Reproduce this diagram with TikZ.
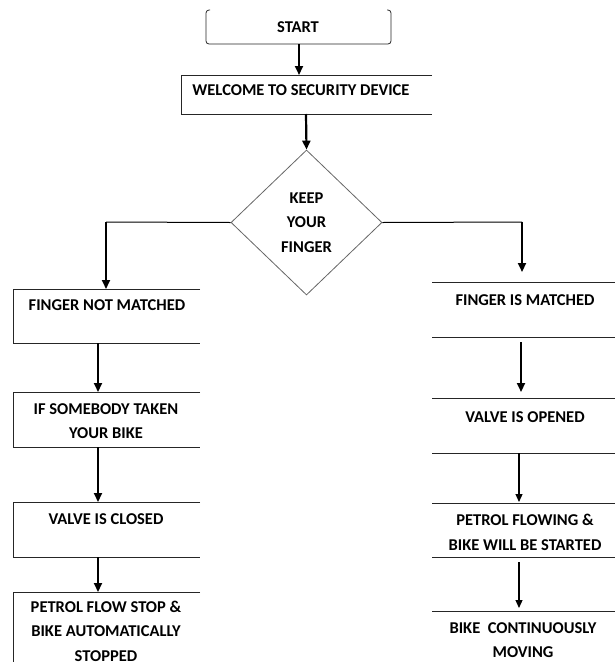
\documentclass[tikz,border=0pt]{standalone}
\usepackage{fontspec}
\setmainfont{Carlito}
\usetikzlibrary{arrows.meta,shapes.geometric}
\begin{document}
\begin{tikzpicture}[x=1pt,y=-1pt,
  lbl/.style={font=\bfseries\fontsize{16.5}{24.5}\selectfont, align=center, inner sep=0pt},
  edge/.style={black!85, line width=0.8pt},
  conn/.style={black, line width=1pt},
  thickarrow/.style={black, line width=2.2pt, -{Triangle[length=9pt,width=8pt]}},
  thinarrow/.style={black, line width=1.2pt, -{Triangle[length=8pt,width=7pt]}}]
\useasboundingbox (0,0) rectangle (615,662);
\clip (0,0) rectangle (615,662);
% START
\draw[edge, rounded corners=3pt] (210,10) -- (206,10) -- (206,44) -- (391,44) -- (391,10) -- (387,10);
\node[lbl] (start) at (298,27) {START};
\coordinate (startB) at (299,44);
% WELCOME
\draw[edge] (432,75) -- (181,75) -- (181,114) -- (432,114);
\node[lbl] (welcome) at (301,90) {WELCOME TO SECURITY DEVICE};
\coordinate (welT) at (299,75);
\coordinate (welB) at (306,114);
% DIAMOND
\node[lbl, draw=black!60, line width=0.8pt, diamond, minimum width=151pt, minimum height=145pt] (keep) at (306.5,222.5) {KEEP\\YOUR\\FINGER};
% left column
\draw[edge] (200,289) -- (13,289) -- (13,343) -- (200,343);
\draw[edge] (200,392) -- (13,392) -- (13,447) -- (200,447);
\draw[edge] (200,502) -- (13,502) -- (13,557) -- (200,557);
\draw[edge] (200,592) -- (13,592) -- (13,670);
\node[lbl] (l1) at (107,305) {FINGER NOT MATCHED};
\node[lbl] (l2) at (106,421) {IF SOMEBODY TAKEN\\YOUR BIKE};
\node[lbl] (l3) at (106,519) {VALVE IS CLOSED};
\node[lbl] (l4) at (106,631) {PETROL FLOW STOP \&\\BIKE AUTOMATICALLY\\STOPPED};
\coordinate (l1T) at (106,289);
\coordinate (l1B) at (98,343);
\coordinate (l2T) at (98,392);
\coordinate (l2B) at (98,447);
\coordinate (l3T) at (98,502);
\coordinate (l3B) at (98,557);
\coordinate (l4T) at (98,592);
% right column
\draw[edge] (432,282) -- (615,282) (432,337) -- (615,337);
\draw[edge] (432,398) -- (615,398) (432,453) -- (615,453);
\draw[edge] (432,503) -- (615,503) (432,557) -- (615,557);
\draw[edge] (432,611) -- (615,611);
\node[lbl] (r1) at (525,300) {FINGER IS MATCHED};
\node[lbl] (r2) at (525,417) {VALVE IS OPENED};
\node[lbl] (r3) at (525,532.5) {PETROL FLOWING \&\\BIKE WILL BE STARTED};
\node[lbl] (r4) at (523,640) {BIKE\ \ CONTINUOUSLY\\MOVING};
\coordinate (r1T) at (522,272);
\coordinate (r1B) at (521,342);
\coordinate (r2T) at (521,392);
\coordinate (r2B) at (519,453);
\coordinate (r3T) at (519,502);
\coordinate (r3B) at (519,562);
\coordinate (r4T) at (519,608);
% junctions
\coordinate (lc) at (106,222);
\coordinate (rc) at (522,222);
% connectors
\draw[thickarrow] (startB) -- (welT);
\draw[thickarrow] (welB) -- (keep.north);
\draw[conn] (keep.west) -- (lc);
\draw[thickarrow] (lc) -- (l1T);
\draw[conn] (keep.east) -- (rc);
\draw[thickarrow] (rc) -- (r1T);
\draw[thickarrow] (l1B) -- (l2T);
\draw[thickarrow] (l2B) -- (l3T);
\draw[thickarrow] (l3B) -- (l4T);
\draw[thickarrow] (r1B) -- (r2T);
\draw[thinarrow] (r2B) -- (r3T);
\draw[thinarrow] (r3B) -- (r4T);
\end{tikzpicture}
\end{document}
